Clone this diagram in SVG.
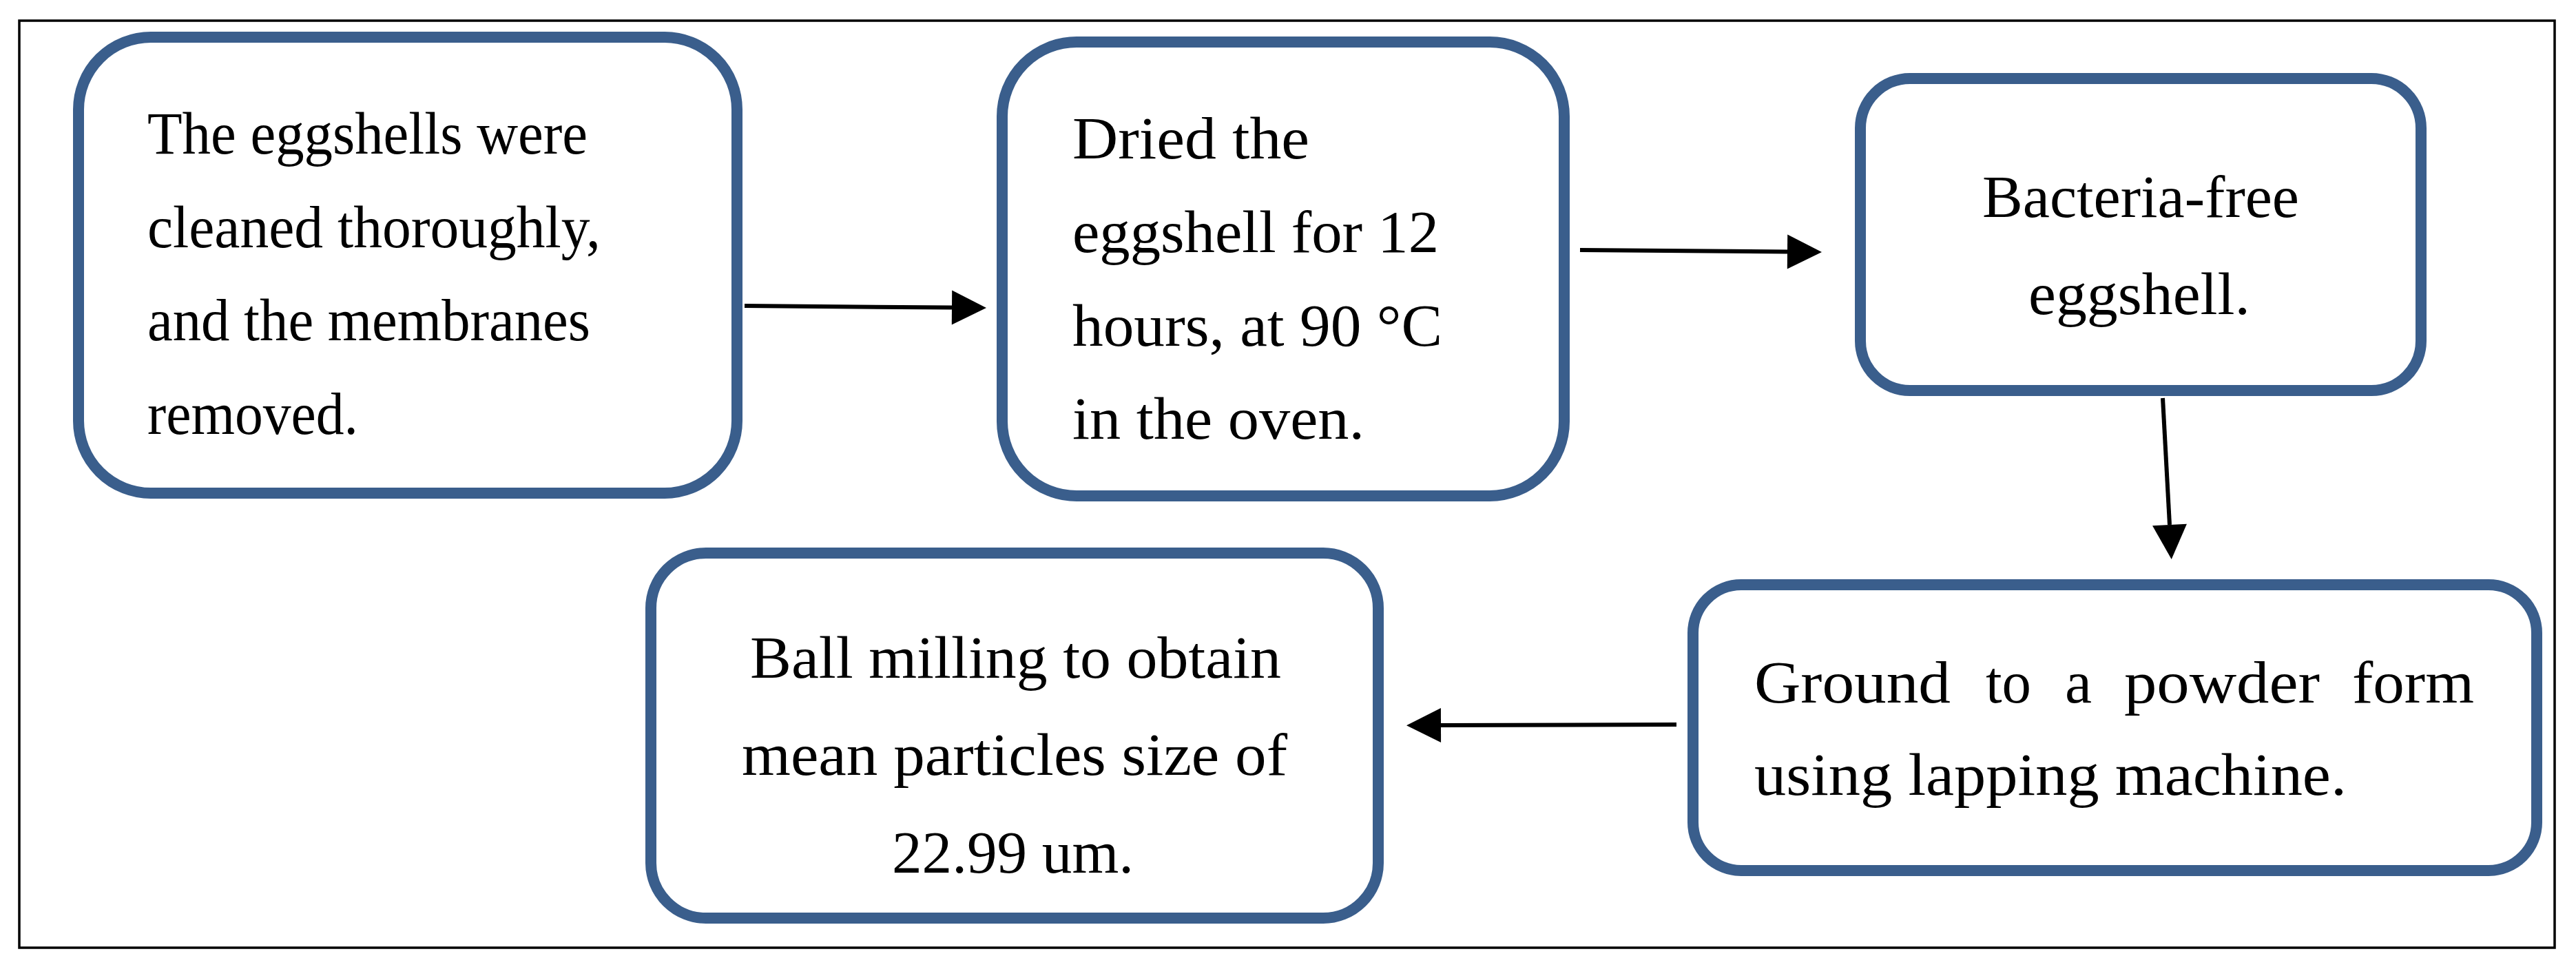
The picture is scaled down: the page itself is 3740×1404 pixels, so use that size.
<svg xmlns="http://www.w3.org/2000/svg" width="3740" height="1404" viewBox="0 0 3740 1404">
<defs>
<style>
.box{fill:#ffffff;stroke:#3A5E8C;stroke-width:16}
.t{font-family:"Liberation Serif","Times New Roman",serif;font-size:86px;fill:#000}
.c{text-anchor:middle}
.conn{stroke:#000;stroke-width:6;fill:none}
</style>
<marker id="ah" markerUnits="userSpaceOnUse" markerWidth="52" markerHeight="52" refX="0" refY="25" orient="auto" overflow="visible">
<path d="M0,0 L50,25 L0,50 Z" fill="#000"/>
</marker>
</defs>
<rect x="0" y="0" width="3740" height="1404" fill="#ffffff"/>
<rect id="frame" x="28" y="30" width="3681" height="1346" fill="none" stroke="#000" stroke-width="3.5"/>
<g id="connectors">
<line class="conn" x1="1081" y1="444" x2="1382" y2="446.6" marker-end="url(#ah)"/>
<line class="conn" x1="2294" y1="363" x2="2595" y2="365.5" marker-end="url(#ah)"/>
<line class="conn" x1="3140" y1="578" x2="3150" y2="762" stroke-width="5" marker-end="url(#ah)"/>
<line class="conn" x1="2434" y1="1052" x2="2092" y2="1053" marker-end="url(#ah)"/>
</g>
<g id="n1">
<rect class="box" x="114" y="54" width="956" height="662" rx="105" ry="105"/>
<text class="t" x="214" y="223" textLength="639" lengthAdjust="spacingAndGlyphs">The eggshells were</text>
<text class="t" x="214" y="359" textLength="658" lengthAdjust="spacingAndGlyphs">cleaned thoroughly,</text>
<text class="t" x="214" y="494" textLength="643" lengthAdjust="spacingAndGlyphs">and the membranes</text>
<text class="t" x="214" y="630" textLength="306" lengthAdjust="spacingAndGlyphs">removed.</text>
</g>
<g id="n2">
<rect class="box" x="1455" y="61" width="816" height="659" rx="108" ry="108"/>
<text class="t" x="1557" y="230" textLength="344" lengthAdjust="spacingAndGlyphs">Dried the</text>
<text class="t" x="1557" y="366" textLength="532" lengthAdjust="spacingAndGlyphs">eggshell for 12</text>
<text class="t" x="1557" y="502" textLength="537" lengthAdjust="spacingAndGlyphs">hours, at 90 °C</text>
<text class="t" x="1557" y="637" textLength="424" lengthAdjust="spacingAndGlyphs">in the oven.</text>
</g>
<g id="n3">
<rect class="box" x="2701" y="114" width="814" height="453" rx="72" ry="72"/>
<text class="t" x="2878" y="315" textLength="460" lengthAdjust="spacingAndGlyphs">Bacteria-free</text>
<text class="t" x="2945" y="456" textLength="322" lengthAdjust="spacingAndGlyphs">eggshell.</text>
</g>
<g id="n4">
<rect class="box" x="945" y="803" width="1056" height="530" rx="80" ry="80"/>
<text class="t" x="1089" y="984" textLength="771" lengthAdjust="spacingAndGlyphs">Ball milling to obtain</text>
<text class="t" x="1077" y="1125" textLength="792" lengthAdjust="spacingAndGlyphs">mean particles size of</text>
<text class="t" x="1295" y="1267" textLength="351" lengthAdjust="spacingAndGlyphs">22.99 um.</text>
</g>
<g id="n5">
<rect class="box" x="2458" y="849" width="1225" height="415" rx="70" ry="70"/>
<text class="t" y="1020"><tspan x="2547" textLength="285" lengthAdjust="spacingAndGlyphs">Ground</tspan><tspan x="2883" textLength="66" lengthAdjust="spacingAndGlyphs">to</tspan><tspan x="2998" textLength="39" lengthAdjust="spacingAndGlyphs">a</tspan><tspan x="3084" textLength="284" lengthAdjust="spacingAndGlyphs">powder</tspan><tspan x="3415" textLength="177" lengthAdjust="spacingAndGlyphs">form</tspan></text>
<text class="t" x="2547" y="1154" textLength="860" lengthAdjust="spacingAndGlyphs">using lapping machine.</text>
</g>
</svg>
